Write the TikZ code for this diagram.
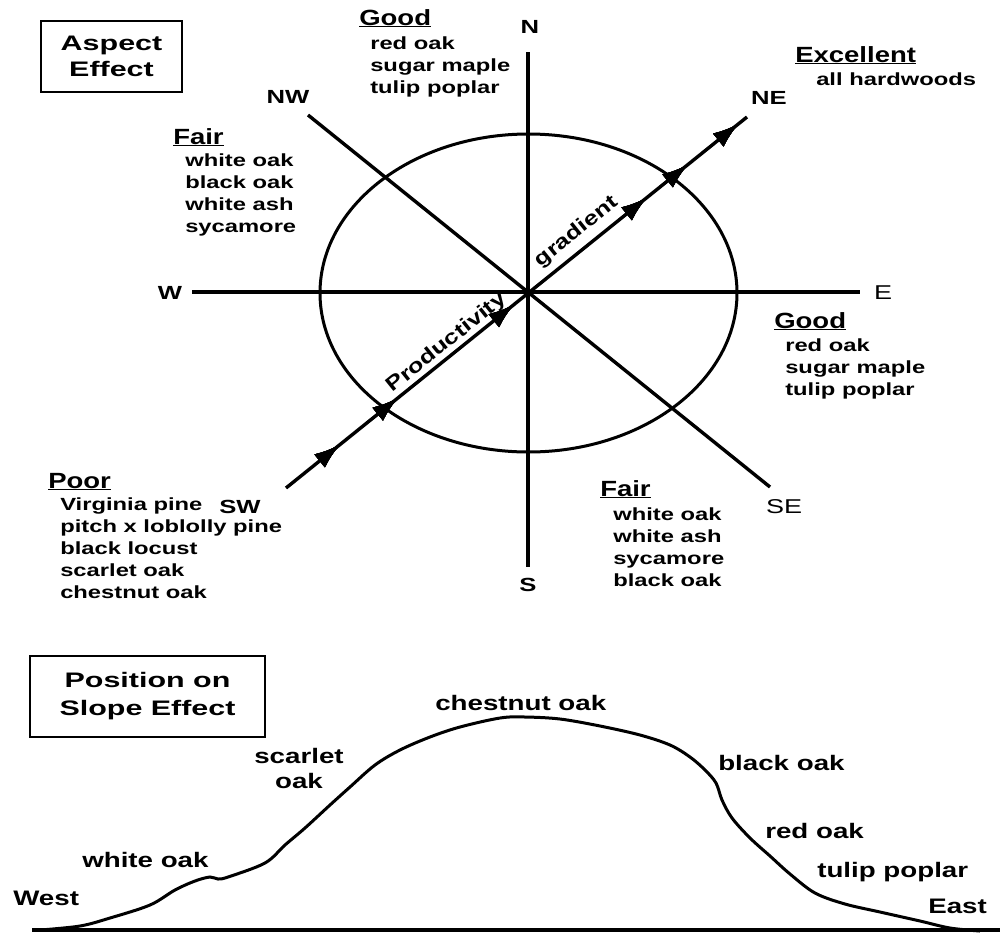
\documentclass[tikz,border=0pt]{standalone}
\usepackage{fontspec}
\setmainfont{Liberation Sans}
\usetikzlibrary{arrows.meta,decorations.markings,positioning}

\begin{document}
\begin{tikzpicture}[x=1pt,y=-1pt]

\tikzset{line/.style={draw,line width=3.4pt}}
\tikzset{ring/.style={draw,line width=3pt}}
\tikzset{textnode/.style={inner sep=0pt}}
\tikzset{compass/.style={textnode,font=\fontsize{19}{19}\selectfont\bfseries,xscale=1.35}}
\tikzset{compasslight/.style={compass,font=\fontsize{20}{20}\selectfont}}
\tikzset{heading/.style={textnode,anchor=base west,font=\fontsize{22}{22}\selectfont\bfseries,xscale=1.25}}
\tikzset{species/.style={textnode,anchor=north west,align=left,font=\fontsize{17.6}{22}\selectfont\bfseries,xscale=1.35}}
\tikzset{slopelabel/.style={textnode,anchor=base west,font=\fontsize{21}{25}\selectfont\bfseries,xscale=1.32}}
\tikzset{gradlabel/.style={textnode,anchor=base,font=\fontsize{20}{20}\selectfont\bfseries,rotate=38.8,xscale=1.27}}
\tikzset{titlebox/.style={draw,line width=2.4pt,inner sep=0pt,align=center,font=\fontsize{21}{26}\selectfont\bfseries,xscale=1.45}}
\tikzset{gradtip/.style={decoration={markings,mark=at position #1 with {\arrow{Latex[length=26pt,width=17pt]}}},postaction={decorate}}}
\tikzset{gradarrow/.style={line,gradtip=0.117,gradtip=0.243,gradtip=0.495,gradtip=0.783,gradtip=0.872,gradtip=0.982}}

\useasboundingbox (0,0) rectangle (1000,932);

% aspect
\node[titlebox,minimum width=97pt,minimum height=71pt] (aspect) at (111.5,56.5) {Aspect\\Effect};

\coordinate (ntop) at (528,52);
\coordinate (sbot) at (528,567);
\coordinate (wend) at (192,292);
\coordinate (eend) at (860,292);
\coordinate (nwend) at (308,115);
\coordinate (seend) at (770,487);
\coordinate (swend) at (286,488);
\coordinate (neend) at (747,117);

\draw[ring] (528.5,293) ellipse [x radius=208.5pt, y radius=159pt];
\path[line] (ntop) -- (sbot);
\path[line] (wend) -- (eend);
\path[line] (nwend) -- (seend);
\path[gradarrow] (swend) -- (neend);

\node[compass] (nlabel) at (530,27) {N};
\node[compass] (nwlabel) at (288,97) {NW};
\node[compass] (nelabel) at (769,98) {NE};
\node[compass] (wlabel) at (170,293) {W};
\node[compasslight] (elabel) at (883,293) {E};
\node[compass] (swlabel) at (240,507) {SW};
\node[compasslight] (selabel) at (784,507) {SE};
\node[compass] (slabel) at (528,585) {S};

\node[gradlabel] (prod) at (450,347) {Productivity};
\node[gradlabel] (grad) at (580,236) {gradient};

\node[heading] (goodn) at (359,25) {\underline{Good}};
\node[species] (goodnlist) at (370,37) {red oak\\sugar maple\\tulip poplar};
\node[heading] (fairnw) at (173,144) {\underline{Fair}};
\node[species] (fairnwlist) at (185,154) {white oak\\black oak\\white ash\\sycamore};
\node[heading] (excellent) at (795,62) {\underline{Excellent}};
\node[species] (excellentlist) at (816,73) {all hardwoods};
\node[heading] (goode) at (774,328) {\underline{Good}};
\node[species] (goodelist) at (785,339) {red oak\\sugar maple\\tulip poplar};
\node[heading] (fairse) at (600,496) {\underline{Fair}};
\node[species] (fairselist) at (613,508) {white oak\\white ash\\sycamore\\black oak};
\node[heading] (poor) at (48,488) {\underline{Poor}};
\node[species] (poorlist) at (60,498) {Virginia pine\\pitch x loblolly pine\\black locust\\scarlet oak\\chestnut oak};

% slope
\node[titlebox,minimum width=162pt,minimum height=81pt,font=\fontsize{21}{28}\selectfont\bfseries] (slope) at (147.5,696.5) {Position on\\Slope Effect};

\path[line] (32,930) -- (1000,930);
\draw[ring] plot[smooth,tension=0.55] coordinates {(40,930) (80,926) (110,918) (150,905) (175,890) (195,881) (210,877) (218,879) (228,877) (265,863) (285,845) (305,828) (330,805) (350,787) (375,765) (400,750) (430,737) (460,727) (500,718) (525,717) (560,719) (600,726) (640,735) (670,745) (690,757) (705,770) (716,783) (722,800) (732,818) (750,838) (770,856) (790,874) (815,893) (845,904) (880,912) (920,921) (950,928) (980,931)};

\node[slopelabel] (chestnut) at (435,710) {chestnut oak};
\node[slopelabel,anchor=north,align=center] (scarlet) at (299,748) {scarlet\\oak};
\node[slopelabel] (whiteoak) at (82,867) {white oak};
\node[slopelabel] (west) at (13,905) {West};
\node[slopelabel] (blackoak) at (718,770) {black oak};
\node[slopelabel] (redoak) at (765,838) {red oak};
\node[slopelabel] (tulip) at (817,877) {tulip poplar};
\node[slopelabel] (east) at (928,913) {East};

\end{tikzpicture}
\end{document}
